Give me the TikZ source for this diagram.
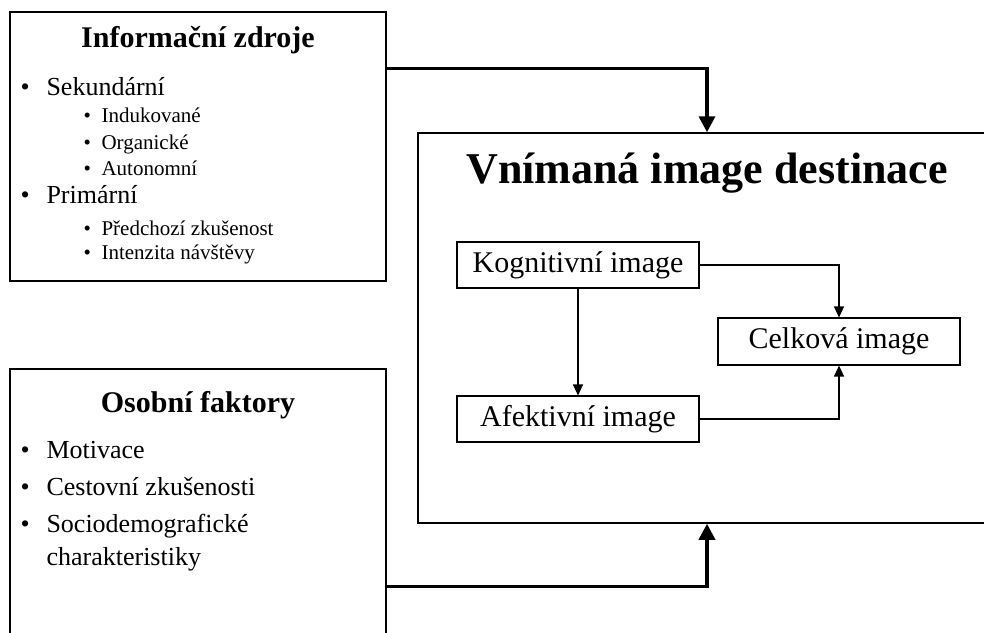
\documentclass[tikz,border=0pt]{standalone}
\usepackage{fontspec}
\setmainfont{Liberation Serif}
\usetikzlibrary{arrows.meta}

\begin{document}
\begin{tikzpicture}[x=1pt,y=-1pt,
  bigbox/.style={draw,line width=1.3pt,inner sep=0pt},
  inbox/.style={draw,line width=1.1pt,inner sep=0pt,minimum width=242pt,font=\fontsize{30}{32}\selectfont},
  head/.style={anchor=base,font=\fontsize{30}{32}\selectfont\bfseries},
  item/.style={anchor=base west,font=\fontsize{26}{28}\selectfont},
  subitem/.style={anchor=base west,font=\fontsize{21}{23}\selectfont},
  bigarrow/.style={line width=3.5pt,-{Triangle[length=16pt,width=16pt]}},
  smallarrow/.style={line width=1.3pt,-{Triangle[length=11pt,width=10pt]}}]
\path[use as bounding box] (0,0) rectangle (984,632);
\clip (0,0) rectangle (984,632);
% left boxes
\node[bigbox,minimum width=376pt,minimum height=269pt] (info) at (198,146.5) {};
\node[bigbox,minimum width=376pt,minimum height=281pt] (osob) at (198,509.5) {};
% right box
\node[bigbox,line width=1.5pt,minimum width=578pt,minimum height=390pt] (vnim) at (707,328) {};

% Informacni zdroje
\node[head] (infotitle) at (198,47) {Informační zdroje};
\node[item] (sek) at (17,95) {\makebox[26pt][l]{\textbullet}Sekundární};
\foreach \t/\y [count=\i] in {Indukované/122,Organické/149,Autonomní/175}
  \node[subitem] (sub\i) at (80,\y) {\makebox[18pt][l]{\textbullet}\t};
\node[item] (prim) at (17,203) {\makebox[26pt][l]{\textbullet}Primární};
\node[subitem] (pred) at (80,235) {\makebox[18pt][l]{\textbullet}Předchozí zkušenost};
\node[subitem] (inte) at (80,259) {\makebox[18pt][l]{\textbullet}Intenzita návštěvy};

% Osobni faktory
\node[head] (osobtitle) at (198,412) {Osobní faktory};
\node[item] (moti) at (17,458) {\makebox[26pt][l]{\textbullet}Motivace};
\node[item] (cest) at (17,495) {\makebox[26pt][l]{\textbullet}Cestovní zkušenosti};
\node[item] (soci) at (17,532) {\makebox[26pt][l]{\textbullet}Sociodemografické};
\node[item] (char) at (43,565) {charakteristiky};

% Vnimana image destinace
\node[head,font=\fontsize{44}{46}\selectfont\bfseries] (vnimtitle) at (707,183) {Vnímaná image destinace};
\node[inbox,minimum height=46pt] (kog) at (578,265) {Kognitivní image};
\node[inbox,minimum height=47pt] (celk) at (839,341.5) {Celková image};
\node[inbox,minimum height=46pt] (afek) at (578,419) {Afektivní image};

% arrows
\draw[bigarrow] ([yshift=-57pt]info.north east) -| (vnim.north);
\draw[bigarrow] ([yshift=-218pt]osob.north east) -| (vnim.south);
\draw[smallarrow] (kog.east) -| (celk.north);
\draw[smallarrow] (kog.south) -- (afek.north);
\draw[smallarrow] (afek.east) -| (celk.south);
\end{tikzpicture}
\end{document}
